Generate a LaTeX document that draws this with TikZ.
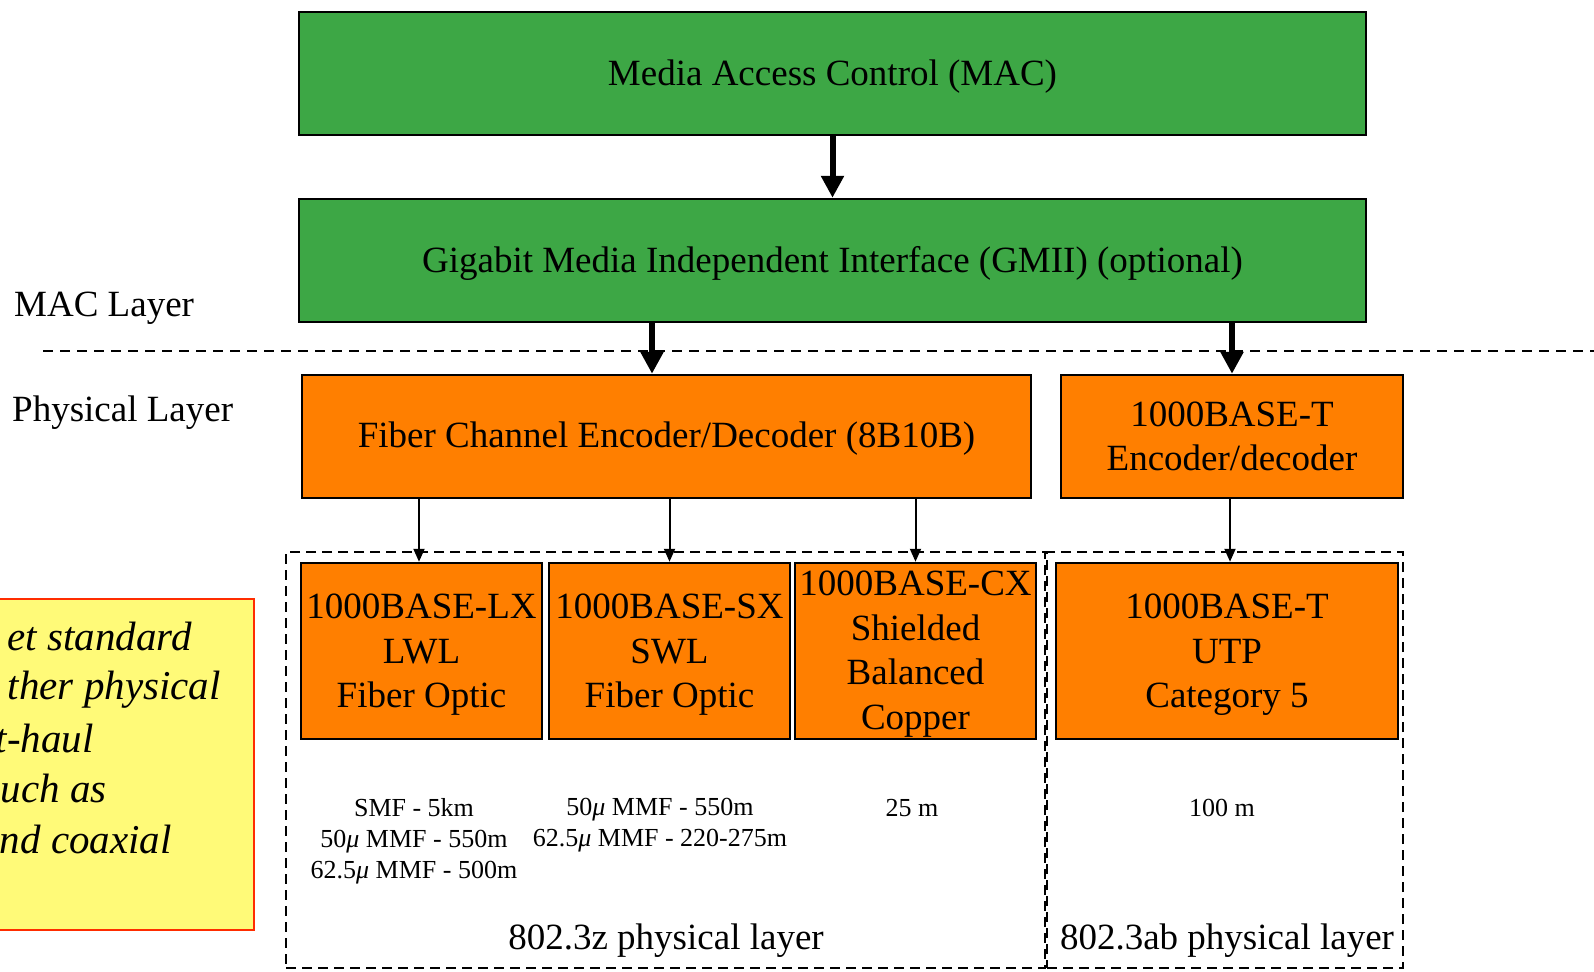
\documentclass[tikz,border=0pt]{standalone}
\usepackage{fontspec}
\setmainfont{Liberation Serif}
\usetikzlibrary{arrows.meta}

\definecolor{macgreen}{RGB}{61,167,69}
\definecolor{phyorange}{RGB}{255,127,0}
\definecolor{noteyellow}{RGB}{255,250,120}
\definecolor{notered}{RGB}{255,45,0}

\begin{document}
\begin{tikzpicture}[x=1pt,y=-1pt,
  blk/.style={draw=black, line width=2.5pt, inner sep=0pt},
  greenblk/.style={blk, fill=macgreen},
  orangeblk/.style={blk, fill=phyorange},
  blktext/.style={inner sep=0pt, align=center, font=\fontsize{37}{44.5}\selectfont},
  bigarrow/.style={line width=6pt, -{Triangle[width=22pt,length=22pt]}},
  smallarrow/.style={line width=2pt, -{Triangle[width=11pt,length=13pt]}},
  groupframe/.style={draw=black, dash pattern=on 10pt off 6pt, line width=2.2pt},
  layerline/.style={draw=black, dash pattern=on 10pt off 7pt, line width=2.2pt},
  bigtxt/.style={font=\fontsize{37}{44.5}\selectfont, inner sep=0pt},
  smalltxt/.style={font=\fontsize{26}{31}\selectfont, inner sep=0pt, align=center},
  notetxt/.style={font=\fontsize{41}{51}\selectfont\itshape, inner sep=0pt, anchor=base east}]

\useasboundingbox (0,0) rectangle (1594,971);
\clip (0,0) rectangle (1594,971);

% MAC / physical separator
\coordinate (sepL) at (43,351);
\coordinate (sepR) at (1600,351);
\draw[layerline] (sepL) -- (sepR);

% layer labels
\node[bigtxt, anchor=base west] (maclbl) at (14,316) {MAC Layer};
\node[bigtxt, anchor=base west] (phylbl) at (12,421) {Physical Layer};

% side note
\node[draw=notered, fill=noteyellow, line width=2.5pt, inner sep=0pt,
      minimum width=274pt, minimum height=331pt] (note) at (117,764.5) {};
\node[notetxt] (note1) at (192,650) {et standard};
\node[notetxt] (note2) at (221,699) {ther physical};
\node[notetxt] (note3) at (94,752) {t-haul};
\node[notetxt] (note4) at (107,802) {uch as};
\node[notetxt] (note5) at (172,853) {nd coaxial};

% standard groupings
\node[groupframe, inner sep=0pt, minimum width=759pt, minimum height=416pt] (zframe) at (665.5,760) {};
\node[groupframe, inner sep=0pt, minimum width=356pt, minimum height=416pt] (abframe) at (1225,760) {};
\node[bigtxt, anchor=base] (zlbl) at (666,949) {802.3z physical layer};
\node[bigtxt, anchor=base] (ablbl) at (1227,949) {802.3ab physical layer};

% MAC side
\node[greenblk, minimum width=1067pt, minimum height=123pt] (mac) at (832.5,73.5) {};
\node[blktext] (mactext) at ([yshift=-3pt]mac.center) {Media Access Control (MAC)};
\node[greenblk, minimum width=1067pt, minimum height=123pt] (gmii) at (832.5,260.5) {};
\node[blktext] (gmiitext) at ([yshift=-3pt]gmii.center) {Gigabit Media Independent Interface (GMII) (optional)};

% encoders
\node[orangeblk, minimum width=729pt, minimum height=123pt] (fiber) at (666.5,436.5) {};
\node[blktext] (fibertext) at ([yshift=-2.5pt]fiber.center) {Fiber Channel Encoder/Decoder (8B10B)};
\node[orangeblk, minimum width=342pt, minimum height=123pt] (enc) at (1232,436.5) {};
\node[blktext] (enctext) at (enc.center) {1000BASE-T\\Encoder/decoder};

% media
\node[orangeblk, minimum width=241pt, minimum height=176pt] (lx) at (421.5,651) {};
\node[blktext] (lxtext) at ([yshift=-4pt]lx.center) {1000BASE-LX\\LWL\\Fiber Optic};
\node[orangeblk, minimum width=241pt, minimum height=176pt] (sx) at (669.5,651) {};
\node[blktext] (sxtext) at ([yshift=-4pt]sx.center) {1000BASE-SX\\SWL\\Fiber Optic};
\node[orangeblk, minimum width=241pt, minimum height=176pt] (cx) at (915.5,651) {};
\node[blktext] (cxtext) at ([yshift=-3pt]cx.center) {1000BASE-CX\\Shielded\\Balanced\\Copper};
\node[orangeblk, minimum width=342pt, minimum height=176pt] (utp) at (1227,651) {};
\node[blktext] (utptext) at ([yshift=-4pt]utp.center) {1000BASE-T\\UTP\\Category 5};

% reach
\node[smalltxt, anchor=north] (lxdist) at (414,798) {SMF - 5km\\50\textit{μ} MMF - 550m\\62.5\textit{μ} MMF - 500m};
\node[smalltxt, anchor=north] (sxdist) at (660,798) {50\textit{μ} MMF - 550m\\62.5\textit{μ} MMF - 220-275m};
\node[smalltxt, anchor=base] (cxdist) at (912,816) {25 m};
\node[smalltxt, anchor=base] (utpdist) at (1222,816) {100 m};

% connectors
\draw[bigarrow] (mac.south) -- (gmii.north);
\draw[bigarrow] ([xshift=-14.5pt]fiber.north |- gmii.south) -- ([xshift=-14.5pt]fiber.north);
\draw[bigarrow] (enc.north |- gmii.south) -- (enc.north);
\draw[smallarrow] ([xshift=-2.5pt]lx.north |- fiber.south) -- ([xshift=-2.5pt]lx.north);
\draw[smallarrow] (sx.north |- fiber.south) -- (sx.north);
\draw[smallarrow] (cx.north |- fiber.south) -- (cx.north);
\draw[smallarrow] ([xshift=3pt]utp.north |- enc.south) -- ([xshift=3pt]utp.north);
\end{tikzpicture}
\end{document}
